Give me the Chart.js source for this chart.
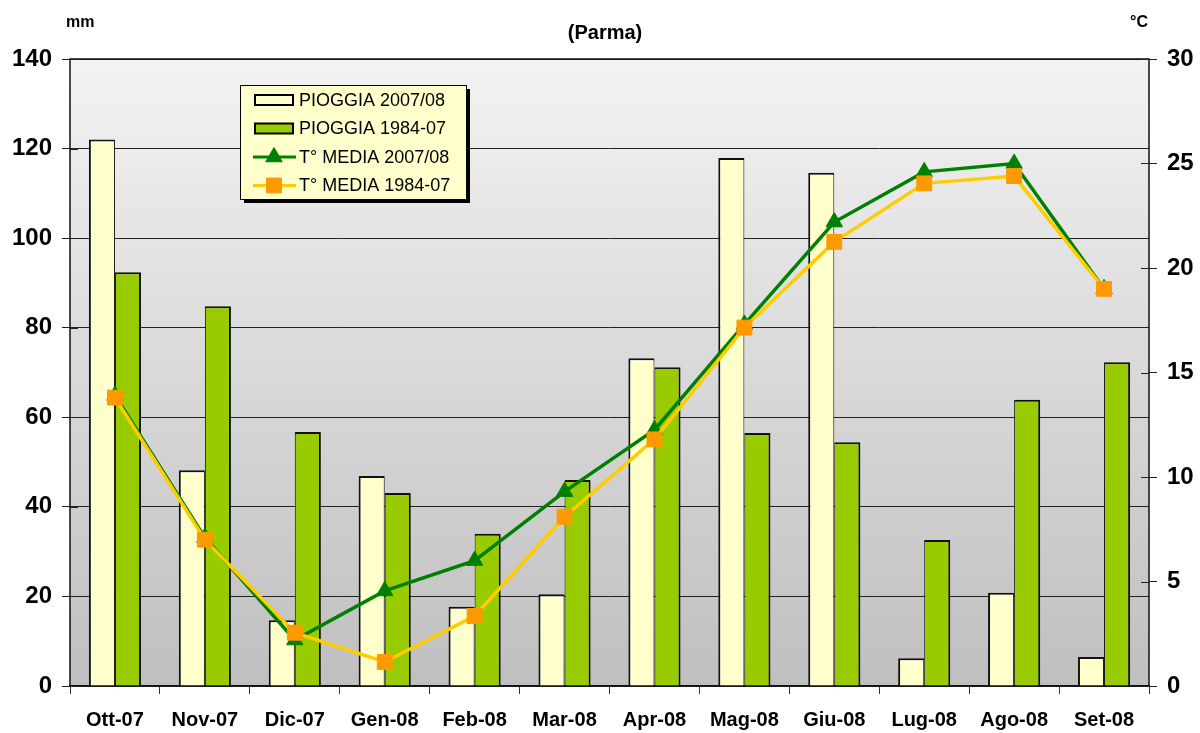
<!DOCTYPE html>
<html>
<head>
<meta charset="utf-8">
<script src="https://cdn.jsdelivr.net/npm/chart.js@4.4.1/dist/chart.umd.min.js"></script>
<style>
  html, body { margin: 0; padding: 0; background: #ffffff; }
  #wrap { position: relative; width: 1200px; height: 733px; }
</style>
</head>
<body>
<div id="wrap"><canvas id="c" width="1200" height="733"></canvas></div>
<script>
// Monthly rainfall (mm) and mean temperature (°C), Parma, Oct 2007 – Sep 2008
const months = ['Ott-07', 'Nov-07', 'Dic-07', 'Gen-08', 'Feb-08', 'Mar-08',
                'Apr-08', 'Mag-08', 'Giu-08', 'Lug-08', 'Ago-08', 'Set-08'];
const rain0708 = [122.0, 48.2, 14.7, 46.9, 17.7, 20.5, 73.2, 117.9, 114.6, 6.2, 20.8, 6.5];
const rain8407 = [92.4, 84.8, 56.7, 43.1, 34.0, 46.0, 71.2, 56.5, 54.4, 32.6, 63.9, 72.3];
const temp0708 = [13.9, 7.1, 2.2, 4.55, 6.0, 9.3, 12.25, 17.3, 22.2, 24.6, 25.0, 19.0];
const temp8407 = [13.8, 7.0, 2.55, 1.15, 3.35, 8.1, 11.8, 17.15, 21.25, 24.05, 24.4, 19.0];
const rainTicks = [0, 20, 40, 60, 80, 100, 120, 140];
const tempTicks = [0, 5, 10, 15, 20, 25, 30];

const FONT = '"Liberation Sans", Arial, sans-serif';

// Gradient backdrop behind the plot area
const plotBackground = {
  id: 'plotBackground',
  beforeDraw(chart) {
    const { ctx, chartArea: a } = chart;
    const g = ctx.createLinearGradient(0, a.top, 0, a.bottom);
    g.addColorStop(0, '#f3f3f3');
    g.addColorStop(1, '#bfbfbf');
    ctx.save();
    ctx.fillStyle = g;
    ctx.fillRect(a.left, a.top, a.right - a.left, a.bottom - a.top);
    ctx.restore();
  }
};

function drawMarker(ctx, style, r, x, y) {
  ctx.beginPath();
  if (style === 'rect') {
    const s = Math.SQRT1_2 * r;
    ctx.rect(x - s, y - s, 2 * s, 2 * s);
  } else {
    const w = r * Math.sqrt(3) / 2;
    ctx.moveTo(x, y - r);
    ctx.lineTo(x + w, y + r / 2);
    ctx.lineTo(x - w, y + r / 2);
    ctx.closePath();
  }
  ctx.fill();
  ctx.stroke();
}

// Frame, headings, inner tick halves and the boxed legend
const decorations = {
  id: 'decorations',
  afterDraw(chart) {
    const { ctx, chartArea: a } = chart;
    ctx.save();
    ctx.strokeStyle = '#111';
    ctx.lineWidth = 1.5;
    ctx.beginPath();
    ctx.moveTo(a.left, a.bottom);
    ctx.lineTo(a.left, a.top);
    ctx.lineTo(a.right, a.top);
    ctx.lineTo(a.right, a.bottom);
    ctx.stroke();

    // inner half of the axis tick marks
    const y0 = chart.scales.y, y1 = chart.scales.y1;
    ctx.strokeStyle = '#222';
    ctx.lineWidth = 1;
    tempTicks.forEach(v => {
      const py = Math.round(y1.getPixelForValue(v)) + 0.5;
      ctx.beginPath();
      ctx.moveTo(a.right - 8, py);
      ctx.lineTo(a.right, py);
      ctx.stroke();
    });
    rainTicks.forEach(v => {
      const py = Math.round(y0.getPixelForValue(v)) + 0.5;
      ctx.beginPath();
      ctx.moveTo(a.left, py);
      ctx.lineTo(a.left + 8, py);
      ctx.stroke();
    });

    ctx.fillStyle = '#000';
    ctx.textBaseline = 'middle';
    ctx.font = 'bold 16px ' + FONT;
    ctx.textAlign = 'left';
    ctx.fillText('mm', 66, 23);
    ctx.fillText('°C', 1130, 23);
    ctx.font = 'bold 20px ' + FONT;
    ctx.textAlign = 'center';
    ctx.fillText('(Parma)', 605, 33);

    // legend box
    const lx = 240, ly = 85, lw = 226, lh = 114;
    ctx.fillStyle = '#000';
    ctx.fillRect(lx + 4, ly + 4, lw, lh);
    ctx.fillStyle = '#ffffcc';
    ctx.fillRect(lx, ly, lw, lh);
    ctx.strokeStyle = '#000';
    ctx.lineWidth = 1;
    ctx.strokeRect(lx + 0.5, ly + 0.5, lw, lh);

    const rowY = [100, 128.5, 157, 185.5];
    ctx.font = '18px ' + FONT;
    ctx.textAlign = 'left';
    chart.data.datasets.forEach((ds, i) => {
      const y = rowY[i];
      if (ds.type === 'bar') {
        ctx.fillStyle = ds.backgroundColor;
        ctx.fillRect(255, y - 5, 38, 10);
        ctx.strokeStyle = '#000';
        ctx.lineWidth = 2;
        ctx.strokeRect(255, y - 5, 38, 10);
      } else {
        ctx.strokeStyle = ds.borderColor;
        ctx.lineWidth = 3;
        ctx.beginPath();
        ctx.moveTo(253, y);
        ctx.lineTo(296, y);
        ctx.stroke();
        ctx.fillStyle = ds.pointBackgroundColor;
        ctx.strokeStyle = ds.pointBorderColor;
        ctx.lineWidth = 1;
        drawMarker(ctx, ds.pointStyle, ds.pointRadius, 274, y);
      }
      ctx.fillStyle = '#000';
      ctx.fillText(ds.label, 299, y + 1);
    });
    ctx.restore();
  }
};

new Chart(document.getElementById('c'), {
  data: {
    labels: months,
    datasets: [
      {
        type: 'bar', label: 'PIOGGIA 2007/08', data: rain0708, yAxisID: 'y', order: 3,
        backgroundColor: '#ffffcc', borderColor: '#111',
        borderWidth: { top: 2, left: 2, right: 1, bottom: 0 }, borderSkipped: false,
        categoryPercentage: 0.58, barPercentage: 1.0
      },
      {
        type: 'bar', label: 'PIOGGIA 1984-07', data: rain8407, yAxisID: 'y', order: 3,
        backgroundColor: '#99cc00', borderColor: '#111',
        borderWidth: { top: 2, left: 1, right: 2, bottom: 0 }, borderSkipped: false,
        categoryPercentage: 0.58, barPercentage: 1.0
      },
      {
        type: 'line', label: 'T° MEDIA 2007/08', data: temp0708, yAxisID: 'y1', order: 2,
        borderColor: '#008000', borderWidth: 3.5, tension: 0,
        pointStyle: 'triangle', pointRadius: 9.5,
        pointBackgroundColor: '#008000', pointBorderColor: '#008000', pointBorderWidth: 1
      },
      {
        type: 'line', label: 'T° MEDIA 1984-07', data: temp8407, yAxisID: 'y1', order: 1,
        borderColor: '#ffcc00', borderWidth: 3.5, tension: 0,
        pointStyle: 'rect', pointRadius: 10.5,
        pointBackgroundColor: '#ff9900', pointBorderColor: '#ff9900', pointBorderWidth: 1
      }
    ]
  },
  options: {
    responsive: false,
    animation: false,
    layout: { padding: { top: 59, left: 0, right: 0, bottom: 0 } },
    plugins: { legend: { display: false }, tooltip: { enabled: false }, title: { display: false } },
    scales: {
      x: {
        offset: true,
        grid: { display: true, offset: true, drawOnChartArea: false, drawTicks: true,
                tickLength: 8, color: '#333', lineWidth: 1 },
        border: { display: true, color: '#111', width: 1.5 },
        ticks: { color: '#000', font: { family: FONT, size: 20, weight: 'bold' }, padding: 14,
                 maxRotation: 0, autoSkip: false },
        afterFit(s) { s.height = 47; }
      },
      y: {
        position: 'left', min: 0, max: 140,
        afterBuildTicks(s) { s.ticks = rainTicks.map(v => ({ value: v })); },
        grid: { color: '#222', lineWidth: 1, tickLength: 8, drawTicks: true },
        border: { display: false },
        ticks: { color: '#000', font: { family: FONT, size: 24, weight: 'bold' }, padding: 10 },
        afterFit(s) { s.width = 70; }
      },
      y1: {
        position: 'right', min: 0, max: 30,
        afterBuildTicks(s) { s.ticks = tempTicks.map(v => ({ value: v })); },
        grid: { drawOnChartArea: false, color: '#222', lineWidth: 1, tickLength: 8, drawTicks: true },
        border: { display: false },
        ticks: { color: '#000', font: { family: FONT, size: 24, weight: 'bold' }, padding: 10 },
        afterFit(s) { s.width = 51; }
      }
    }
  },
  plugins: [plotBackground, decorations]
});
</script>
</body>
</html>
